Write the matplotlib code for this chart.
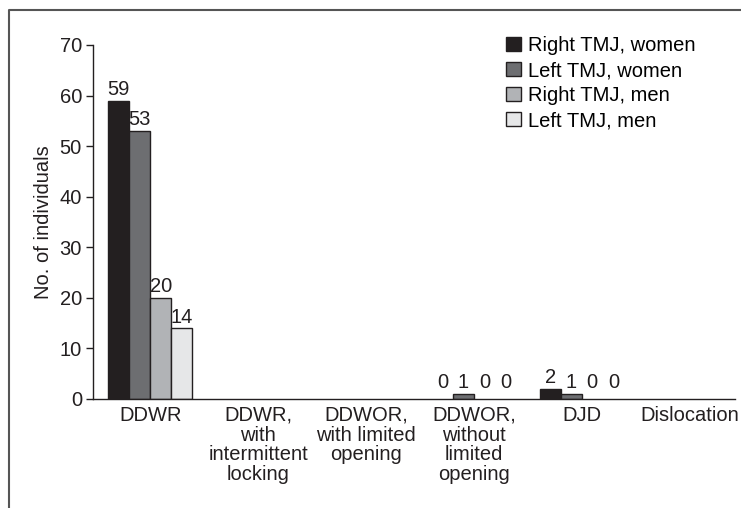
import matplotlib.pyplot as plt
from matplotlib.lines import Line2D
import numpy as np

plt.rcParams['font.family'] = ['Liberation Sans', 'DejaVu Sans']

categories = ["DDWR", "DDWR,\nwith\nintermittent\nlocking", "DDWOR,\nwith limited\nopening",
              "DDWOR,\nwithout\nlimited\nopening", "DJD", "Dislocation"]
right_women = [59, 0, 0, 0, 2, 0]
left_women = [53, 0, 0, 1, 1, 0]
right_men = [20, 0, 0, 0, 0, 0]
left_men = [14, 0, 0, 0, 0, 0]

series = [
    ("Right TMJ, women", right_women, "#231f20"),
    ("Left TMJ, women", left_women, "#6d6e71"),
    ("Right TMJ, men", right_men, "#b1b3b6"),
    ("Left TMJ, men", left_men, "#e6e7e8"),
]

fs = 14.5
ink = "#231f20"

fig = plt.figure(figsize=(7.41, 5.08), dpi=100)
ax = fig.add_axes([93 / 741, 1 - 399 / 508, (735 - 93) / 741, (399 - 45) / 508])

x = np.arange(len(categories))
width = 0.195

# which groups get value labels: those with any non-zero count
labelled = [any(s[1][i] > 0 for s in series) for i in range(len(categories))]

for k, (name, vals, col) in enumerate(series):
    pos = x + (k - 1.5) * width
    lws = [1.0 if v > 0 else 0 for v in vals]
    ax.bar(pos, vals, width, color=col, edgecolor=ink, linewidth=lws, label=name, zorder=2)
    for i, v in enumerate(vals):
        if labelled[i]:
            ax.text(pos[i], max(v, 1) + 0.3, str(v), ha="center", va="bottom",
                    fontsize=fs, color=ink)

ax.set_xlim(-0.53, 5.42)
ax.set_ylim(0, 70)
ax.set_yticks(range(0, 71, 10))
ax.set_xticks(x)
ax.set_xticklabels(categories, fontsize=fs, color=ink, linespacing=1.05)
ax.tick_params(axis="x", length=0, pad=5)
ax.tick_params(axis="y", labelsize=fs, colors=ink, length=5, width=1, pad=3)
ax.set_ylabel("No. of individuals", fontsize=fs, color=ink, labelpad=5)

for s in ["top", "right"]:
    ax.spines[s].set_visible(False)
for s in ["left", "bottom"]:
    ax.spines[s].set_color(ink)
    ax.spines[s].set_linewidth(1.0)

ax.legend(loc="upper left", bbox_to_anchor=(506 / 741, 1 - 36 / 508),
          bbox_transform=fig.transFigure, frameon=False, fontsize=fs,
          handlelength=0.75, handleheight=0.75, handletextpad=0.35,
          labelspacing=0.3, borderpad=0, borderaxespad=0)

# figure border on top and left
bx, by = 9 / 741, 1 - 10 / 508
fig.add_artist(Line2D([bx, bx, 1], [0, by, by], transform=fig.transFigure,
                      color="#555555", linewidth=1.5))

fig.savefig("out.png", dpi=100)
